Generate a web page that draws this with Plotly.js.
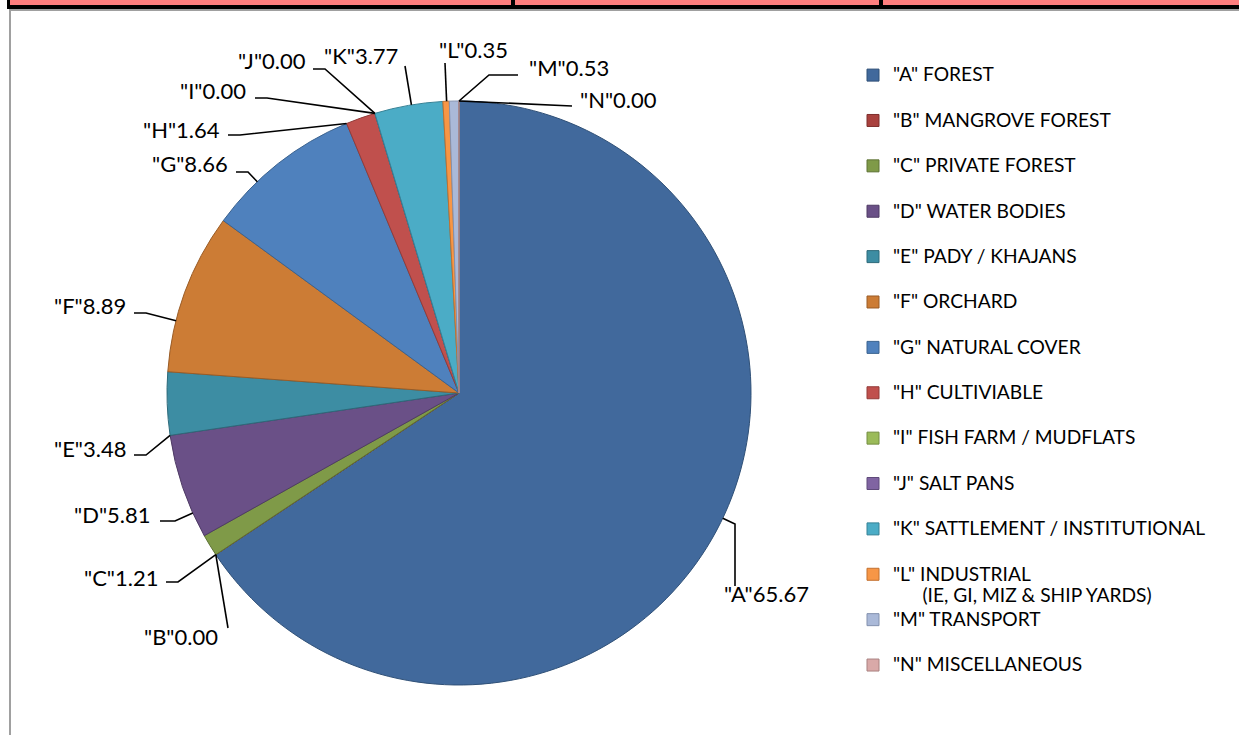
<!DOCTYPE html>
<html>
<head>
<meta charset="utf-8">
<script src="https://cdn.plot.ly/plotly-3.0.1.min.js"></script>
<style>
html,body{margin:0;padding:0;background:#fff;}
#chart{width:1239px;height:735px;}
</style>
</head>
<body>
<div id="chart"></div>
<script>
// ---------- data ----------
const codes = ['A','B','C','D','E','F','G','H','I','J','K','L','M','N'];
const categories = ['FOREST','MANGROVE FOREST','PRIVATE FOREST','WATER BODIES','PADY / KHAJANS','ORCHARD',
  'NATURAL COVER','CULTIVIABLE','FISH FARM / MUDFLATS','SALT PANS','SATTLEMENT / INSTITUTIONAL',
  'INDUSTRIAL','TRANSPORT','MISCELLANEOUS'];
const subNotes = ['','','','','','','','','','','','(IE, GI, MIZ & SHIP YARDS)','',''];
const values = [65.67,0.00,1.21,5.81,3.48,8.89,8.66,1.64,0.00,0.00,3.77,0.35,0.53,0.00];

// ---------- styles ----------
const colors = ['#41699C','#A9413E','#7F9A48','#6A5087','#3D8DA3','#CC7C35','#4F81BD','#C0504D',
  '#9BBB59','#8064A2','#4BACC6','#F79646','#AAB9D8','#D9A9A8'];
const lineColors = ['#2F5077','#7E2F2D','#5E7335','#4F3B65','#2D6A7A','#9A5C26','#3B6390','#933B39',
  '#758E42','#5F4A7A','#378296','#C2712F','#8391AE','#A98180'];

const W = 1239, H = 735;
const CX = 459, CY = 393, R = 292;        // pie centre / radius in px
const px = x => x / W, py = y => 1 - y / H;

// label layout (pixels): text anchor x, y, anchor side, leader start, stub vector
const labX   = [722,220,160,153,128,128,230,222,248,308,400,437,527,578];
const labY   = [593,636,577,514,448,305,164,129, 90, 61, 56, 50, 67, 99];
const labAnc = ['left','right','right','right','right','right','right','right','right','right','right','left','left','left'];
const ldX    = [735,228,166,160,134,134,236,228,255,313,405,445,518,572];
const ldY    = [586,628,582,521,455,313,172,135, 98, 69, 66, 63, 75,106];
const stubX  = [0,0,12,15,12,12,12,12,12,12,0,0,-29,0];
const stubY  = [-62,0,0,0,0,0,0,0,0,0,0,0,0,0];

// ---------- legend labels ----------
const LF = 'font-size:19.2px';
const legendLabels = codes.map((c,i) => {
  let first = '<span style="' + LF + '">"' + c + '" ' + categories[i] + '</span>';
  let second = subNotes[i] ? '<span style="' + LF + '">\u00a0\u00a0\u00a0\u00a0\u00a0\u00a0' + subNotes[i] + '</span>' : '\u00a0';
  return first + '<br>' + second;
});

// ---------- slice angles (clockwise from 12 o'clock) ----------
const total = values.reduce((a,b)=>a+b,0);
let cum = 0;
const ranges = values.map(v => { const s = cum/total*360; cum += v; return [s, cum/total*360]; });

function norm(a){ return ((a % 360) + 360) % 360; }
function angDist(a,b){ const d = Math.abs(norm(a)-norm(b)); return Math.min(d, 360-d); }
function clampAngle(t, r){
  const s = r[0], e = r[1];
  if (norm(t - s) <= (e - s)) return t;
  return angDist(t, s) <= angDist(t, e) ? s : e;
}

const shapes = [];
const annotations = [];
codes.forEach((c,i) => {
  const sx = ldX[i] + stubX[i], sy = ldY[i] + stubY[i];
  const th = norm(Math.atan2(sx - CX, -(sy - CY)) * 180 / Math.PI);
  const t = clampAngle(th, ranges[i]) * Math.PI / 180;
  const tx = CX + R * Math.sin(t), ty = CY - R * Math.cos(t);
  let path = 'M' + px(ldX[i]) + ',' + py(ldY[i]);
  if (stubX[i] !== 0 || stubY[i] !== 0) path += ' L' + px(sx) + ',' + py(sy);
  path += ' L' + px(tx) + ',' + py(ty);
  shapes.push({type:'path', xref:'paper', yref:'paper', path:path, line:{color:'#000', width:1.6}, layer:'above'});
  annotations.push({
    xref:'paper', yref:'paper', x:px(labX[i]), y:py(labY[i]), xanchor:labAnc[i], yanchor:'middle',
    text:'"' + c + '"' + values[i].toFixed(2), showarrow:false,
    font:{family:'Lato, "Noto Sans", sans-serif', size:22, color:'#000'}
  });
});

// sheet frame decorations (spreadsheet row / border)
const deco = [
  {x0:10,x1:1239,y0:0,y1:5,c:'#FF7F7F'},
  {x0:7,x1:1239,y0:5,y1:9,c:'#000'},
  {x0:7,x1:10,y0:0,y1:9,c:'#000'},
  {x0:511,x1:515,y0:0,y1:5,c:'#000'},
  {x0:879,x1:883,y0:0,y1:5,c:'#000'},
  {x0:9,x1:1239,y0:9,y1:11,c:'#A0A0A0'},
  {x0:9,x1:11,y0:9,y1:735,c:'#A0A0A0'}
];
deco.forEach(d => shapes.push({type:'rect', xref:'paper', yref:'paper',
  x0:px(d.x0), x1:px(d.x1), y0:py(d.y1), y1:py(d.y0), fillcolor:d.c, line:{width:0}, layer:'above'}));

const trace = {
  type:'pie',
  labels: legendLabels,
  values: values,
  sort:false,
  direction:'clockwise',
  rotation:0,
  textinfo:'none',
  hoverinfo:'label+value',
  marker:{colors:colors, line:{color:lineColors, width:1}},
  domain:{x:[px(CX-R), px(CX+R)], y:[py(CY+R), py(CY-R)]}
};

const layout = {
  width:W, height:H,
  margin:{l:0,r:0,t:0,b:0},
  paper_bgcolor:'#fff',
  showlegend:true,
  legend:{
    x:px(853), y:py(58), xanchor:'left', yanchor:'top',
    valign:'top', traceorder:'normal',
    font:{family:'Lato, "Noto Sans", sans-serif', size:16.3, color:'#000'},
    bgcolor:'rgba(0,0,0,0)', borderwidth:0
  },
  shapes:shapes,
  annotations:annotations
};

Plotly.newPlot('chart', [trace], layout, {displayModeBar:false, staticPlot:true});
</script>
</body>
</html>
